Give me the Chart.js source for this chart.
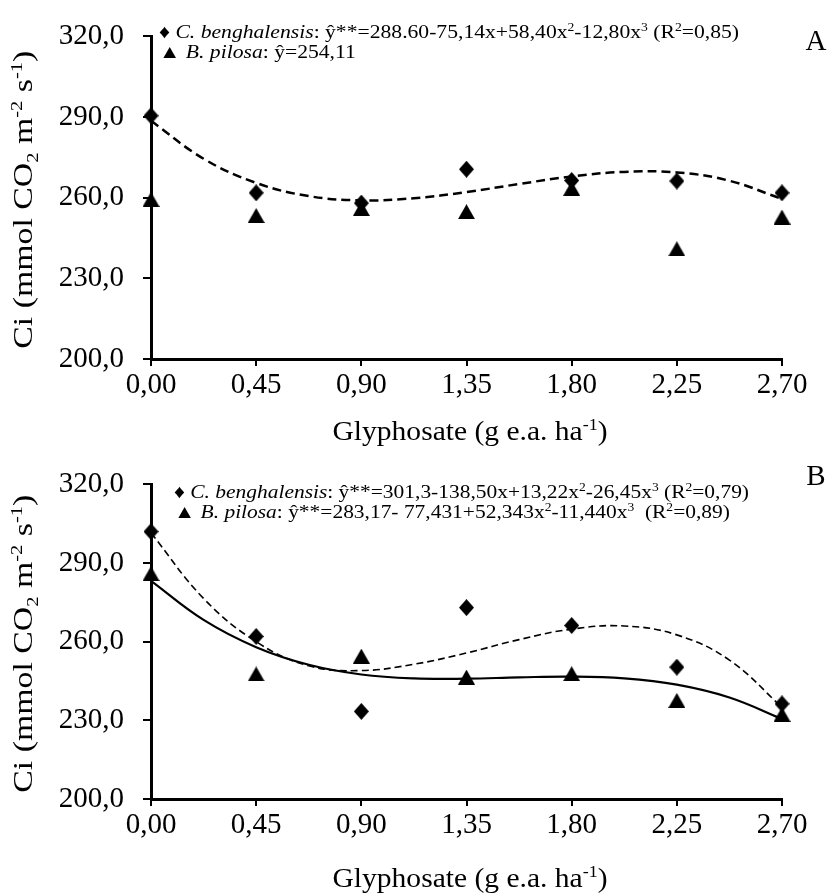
<!DOCTYPE html>
<html>
<head>
<meta charset="utf-8">
<script src="https://cdn.jsdelivr.net/npm/chart.js@4.4.1/dist/chart.umd.min.js"></script>
<style>
  html, body { margin: 0; padding: 0; background: #fff; }
  #wrap { position: relative; width: 831px; height: 896px; }
  canvas { position: absolute; left: 0; }
  #chartA { top: 0; }
  #chartB { top: 448px; }
</style>
</head>
<body>
<div id="wrap">
  <canvas id="chartA" width="831" height="448"></canvas>
  <canvas id="chartB" width="831" height="448"></canvas>
</div>
<script>
// glyphosate doses (g e.a. ha-1) and y ticks
const doses = [0, 0.45, 0.90, 1.35, 1.80, 2.25, 2.70];
const yTicks = [200, 230, 260, 290, 320];

// panel A - observed Ci
const benghA = [290.5, 261.8, 258.0, 270.6, 266.4, 266.2, 261.8];
const pilosaA = [259.4, 253.4, 256.0, 254.8, 263.5, 241.0, 252.8];

// panel B - observed Ci
const benghB = [302.0, 262.0, 233.4, 273.0, 266.2, 250.3, 236.3];
const pilosaB = [286.0, 247.7, 254.5, 246.5, 247.8, 237.6, 232.3];

// fitted curves
const fitX = [0, 0.225, 0.45, 0.675, 0.90, 1.125, 1.35, 1.575, 1.80, 2.025, 2.25, 2.475, 2.70];
const fitBenghA = [288.6, 274.5, 265.5, 260.6, 259.0, 259.8, 262.1, 265.1, 267.9, 269.6, 269.4, 266.3, 259.5];
const fitBenghB = [301.5, 276.5, 260.0, 250.8, 249.0, 251.4, 255.7, 260.8, 264.8, 266.0, 262.6, 253.0, 235.0];
const fitPilosaB = [283.2, 268.3, 257.9, 251.2, 247.5, 246.0, 245.9, 246.4, 246.7, 246.0, 243.6, 238.7, 230.5];

const serif = '"Liberation Serif", "Times New Roman", serif';

// _italic_  ^sup^  ~sub~
const legendA = [
  '\u2666 _C. benghalensis_: \u0177**=288.60-75,14x+58,40x^2^-12,80x^3^ (R^2^=0,85)',
  '\u25B2 _B. pilosa_: \u0177=254,11'
];
const legendB = [
  '\u2666 _C. benghalensis_: \u0177**=301,3-138,50x+13,22x^2^-26,45x^3^ (R^2^=0,79)',
  '\u25B2 _B. pilosa_: \u0177**=283,17- 77,431+52,343x^2^-11,440x^3^  (R^2^=0,89)'
];
const xTitle = 'Glyphosate (g e.a. ha^-1^)';
const yTitle = 'Ci (mmol CO~2~ m^-2^ s^-1^)';

const pts = (xs, ys) => xs.map((x, i) => ({ x: x, y: ys[i] }));

// excel style markers
function diamond(w, h) {
  const c = document.createElement('canvas');
  c.width = w; c.height = h;
  const g = c.getContext('2d');
  g.fillStyle = '#000';
  g.beginPath();
  g.moveTo(w / 2, 0); g.lineTo(w, h / 2); g.lineTo(w / 2, h); g.lineTo(0, h / 2);
  g.closePath(); g.fill();
  return c;
}
function triangle(w, h) {
  const c = document.createElement('canvas');
  c.width = w; c.height = h;
  const g = c.getContext('2d');
  g.fillStyle = '#000';
  g.beginPath();
  g.moveTo(w / 2, 0); g.lineTo(w, h); g.lineTo(0, h);
  g.closePath(); g.fill();
  return c;
}
const dia = diamond(15, 17);
const tri = triangle(17, 15);

function parse(str) {
  const parts = [];
  let cur = '', it = false, sup = false, sub = false;
  const push = () => { if (cur) parts.push({ t: cur, it: it, sup: sup, sub: sub }); cur = ''; };
  for (const ch of str) {
    if (ch === '_') { push(); it = !it; }
    else if (ch === '^') { push(); sup = !sup; }
    else if (ch === '~') { push(); sub = !sub; }
    else cur += ch;
  }
  push();
  return parts;
}

const fontFor = (p, size) => (p.it ? 'italic ' : '') + ((p.sup || p.sub) ? Math.round(size * 0.62) : size) + 'px ' + serif;

function measureRich(ctx, str, size) {
  let total = 0;
  parse(str).forEach(p => { ctx.font = fontFor(p, size); total += ctx.measureText(p.t).width; });
  return total;
}

// draw a line of mixed text, y = baseline, sx = horizontal stretch
function drawRich(ctx, str, x, y, size, align, sx) {
  const parts = parse(str);
  const total = measureRich(ctx, str, size);
  ctx.save();
  ctx.translate(x, y);
  ctx.scale(sx || 1, 1);
  let cx = align === 'center' ? -total / 2 : 0;
  ctx.textAlign = 'left';
  ctx.textBaseline = 'alphabetic';
  parts.forEach(p => {
    ctx.font = fontFor(p, size);
    const dy = p.sup ? -size * 0.36 : p.sub ? size * 0.22 : 0;
    ctx.fillText(p.t, cx, dy);
    cx += ctx.measureText(p.t).width;
  });
  ctx.restore();
}

const textPlugin = {
  id: 'panelText',
  afterDraw(chart, args, o) {
    const ctx = chart.ctx;
    const area = chart.chartArea;
    ctx.save();
    ctx.fillStyle = '#000';
    const ls = o.legendW / measureRich(ctx, o.legend[0], 19);
    o.legend.forEach((line, i) => drawRich(ctx, line, o.legendX, o.legendY + i * 20, 19, 'left', ls));
    ctx.font = '29px ' + serif;
    ctx.textAlign = 'center';
    ctx.textBaseline = 'alphabetic';
    ctx.fillText(o.letter, 816, o.letterY);
    drawRich(ctx, xTitle, 470, o.xTitleY, 28, 'center', 275 / measureRich(ctx, xTitle, 28));
    ctx.translate(32, (area.top + area.bottom) / 2 + 2);
    ctx.rotate(-Math.PI / 2);
    drawRich(ctx, yTitle, 0, 0, 28, 'center', 298 / measureRich(ctx, yTitle, 28));
    ctx.restore();
  }
};

function makeChart(id, sets, o) {
  return new Chart(document.getElementById(id), {
    type: 'scatter',
    data: {
      datasets: [
        { data: pts(doses, sets.bengh), pointStyle: dia, pointRadius: 8, showLine: false, clip: false },
        { data: pts(doses, sets.pilosa), pointStyle: tri, pointRadius: 8, showLine: false, clip: false }
      ].concat(sets.fits.map(f => ({
        data: pts(fitX, f.y), showLine: true, pointRadius: 0, borderColor: '#000',
        borderWidth: f.w, borderDash: f.dash, tension: 0.4, clip: false
      })))
    },
    options: {
      responsive: false,
      animation: false,
      events: [],
      layout: { padding: { left: 0, right: 49, top: o.top, bottom: 0 } },
      plugins: {
        legend: { display: false },
        tooltip: { enabled: false },
        panelText: o
      },
      scales: {
        x: {
          type: 'linear', min: 0, max: 2.7,
          afterBuildTicks: s => { s.ticks = doses.map(v => ({ value: v })); },
          afterFit: s => { s.height = o.xH; },
          grid: { drawOnChartArea: false, tickLength: 7, color: '#000', lineWidth: 2 },
          border: { color: '#000', width: 3 },
          ticks: {
            color: '#000', padding: 2, maxRotation: 0, autoSkip: false,
            font: { family: serif, size: 29 },
            callback: v => v.toFixed(2).replace('.', ',')
          }
        },
        y: {
          min: 200, max: 320,
          afterBuildTicks: s => { s.ticks = yTicks.map(v => ({ value: v })); },
          afterFit: s => { s.width = 151; },
          grid: { drawOnChartArea: false, tickLength: 8, color: '#000', lineWidth: 2 },
          border: { color: '#000', width: 3 },
          ticks: {
            color: '#000', padding: 19,
            font: { family: serif, size: 29 },
            callback: v => v.toFixed(1).replace('.', ',')
          }
        }
      }
    },
    plugins: [textPlugin]
  });
}

makeChart('chartA', {
  bengh: benghA, pilosa: pilosaA,
  fits: [{ y: fitBenghA, w: 2.5, dash: [9, 5] }]
}, { top: 25, xH: 89, legend: legendA, legendX: 159, legendY: 38, legendW: 580, letter: 'A', letterY: 50, xTitleY: 440 });

makeChart('chartB', {
  bengh: benghB, pilosa: pilosaB,
  fits: [{ y: fitBenghB, w: 1.6, dash: [7, 4] }, { y: fitPilosaB, w: 2.2, dash: [] }]
}, { top: 26, xH: 97, legend: legendB, legendX: 174, legendY: 50, legendW: 575, letter: 'B', letterY: 37, xTitleY: 439 });
</script>
</body>
</html>
